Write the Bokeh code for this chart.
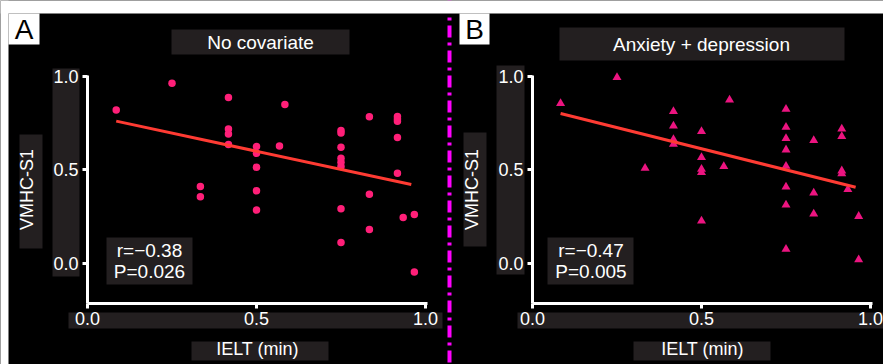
from bokeh.plotting import figure
from bokeh.models import (BoxAnnotation, Label, Span, FixedTicker, LinearAxis,
                          PrintfTickFormatter, Range1d)
from bokeh.embed import file_html
from bokeh.resources import INLINE

# ---------------- data ----------------
a_x = [0.085, 0.250, 0.417, 0.417, 0.417, 0.417, 0.334, 0.334, 0.584,
       0.500, 0.500, 0.500, 0.500, 0.500, 0.568,
       0.750, 0.750, 0.750, 0.750, 0.750, 0.750, 0.750, 0.750,
       0.834, 0.834, 0.834,
       0.917, 0.917, 0.917, 0.917, 0.917, 0.934, 0.967, 0.967]
a_y = [0.819, 0.963, 0.886, 0.718, 0.691, 0.635, 0.411, 0.356, 0.849,
       0.624, 0.588, 0.514, 0.388, 0.285, 0.628,
       0.710, 0.697, 0.620, 0.562, 0.540, 0.518, 0.292, 0.112,
       0.784, 0.370, 0.182,
       0.785, 0.772, 0.760, 0.673, 0.482, 0.245, 0.262, -0.045]

b_x = [0.083, 0.250, 0.333, 0.417, 0.417, 0.417, 0.417,
       0.500, 0.500, 0.500, 0.500, 0.500, 0.583, 0.566,
       0.750, 0.750, 0.750, 0.750, 0.750, 0.750, 0.750, 0.750,
       0.832, 0.832, 0.832,
       0.915, 0.915, 0.915, 0.915, 0.933, 0.965, 0.965]
b_y = [0.855, 0.994, 0.509, 0.812, 0.734, 0.662, 0.637,
       0.705, 0.566, 0.504, 0.486, 0.227, 0.873, 0.518,
       0.824, 0.728, 0.668, 0.607, 0.520, 0.409, 0.313, 0.076,
       0.657, 0.377, 0.265,
       0.718, 0.678, 0.495, 0.480, 0.395, 0.252, 0.020]

a_fit_slope, a_fit_intercept, a_fit_x = -0.387, 0.793, [0.085, 0.958]
b_fit_slope, b_fit_intercept, b_fit_x = -0.451, 0.838, [0.083, 0.956]

x_ticks = [0.0, 0.5, 1.0]
y_ticks = [0.0, 0.5, 1.0]
x_bounds = (0.0, 1.006)
y_bounds = (-0.2136, 1.003)

a_title, b_title = "No covariate", "Anxiety + depression"
a_stats = ["r=\u22120.38", "P=0.026"]
b_stats = ["r=\u22120.47", "P=0.005"]
x_label, y_label = "IELT (min)", "VMHC-S1"

# ---------------- layout / styles ----------------
W, H = 883, 364
PX_X = 338.0          # px per x unit
PX_Y = 187.3          # px per y unit
A_X0, B_X0 = 87, 532  # pixel column of x = 0 in each panel
Y0 = 263.0            # pixel row of y = 0
FONT = "Liberation Sans"
GREY = "#231f20"

p = figure(width=W, height=H, output_backend="svg", toolbar_location=None,
           x_range=Range1d(-A_X0 / PX_X, (W - A_X0) / PX_X),
           y_range=Range1d((Y0 - H) / PX_Y, Y0 / PX_Y),
           x_axis_location=None, y_axis_location=None, min_border=0,
           background_fill_color="black", border_fill_color="black",
           outline_line_color=None)
p.extra_x_ranges = {"b": Range1d(-B_X0 / PX_X, (W - B_X0) / PX_X)}
p.grid.visible = False


def style_axis(ax):
    ax.axis_line_color = "white"
    ax.axis_line_width = 3
    ax.major_tick_line_color = "white"
    ax.major_tick_line_width = 3
    ax.major_tick_out = 5
    ax.major_tick_in = 0
    ax.minor_tick_line_color = None
    ax.major_label_text_color = "white"
    ax.major_label_text_font = FONT
    ax.major_label_text_font_size = "18px"
    ax.axis_label_text_color = "white"
    ax.axis_label_text_font = FONT
    ax.axis_label_text_font_size = "18px"
    ax.axis_label_text_font_style = "normal"
    ax.formatter = PrintfTickFormatter(format="%.1f")


for rng in ("default", "b"):
    xa = LinearAxis(x_range_name=rng, fixed_location=y_bounds[0],
                    bounds=x_bounds, ticker=FixedTicker(ticks=x_ticks),
                    axis_label=x_label, major_label_standoff=3,
                    axis_label_standoff=11)
    style_axis(xa)
    p.add_layout(xa, "below")
    ya = LinearAxis(x_range_name=rng, fixed_location=0.0, bounds=y_bounds,
                    ticker=FixedTicker(ticks=y_ticks), axis_label=y_label,
                    major_label_standoff=4, axis_label_standoff=13)
    style_axis(ya)
    p.add_layout(ya, "left")


def add_box(x0, y0, x1, y1, color, level="underlay"):
    p.add_layout(BoxAnnotation(
        left=x0, right=x1, top=H - y0, bottom=H - y1,
        left_units="screen", right_units="screen",
        top_units="screen", bottom_units="screen",
        fill_color=color, fill_alpha=1.0, line_color=None, level=level))


def add_text(x, y, text, size, color):
    p.add_layout(Label(
        x=x, y=H - y, x_units="screen", y_units="screen", text=text,
        text_align="center", text_baseline="middle", text_font=FONT,
        text_font_size=size, text_color=color))


# decorative boxes
add_box(0, 0, 8, H, "white")
add_box(8, 13, 39, 44, "white")
add_box(459, 13, 489, 44, "white")
add_box(171, 29, 349, 54, GREY)
add_box(559, 27, 844, 60, GREY)
add_box(52, 68, 79, 276, GREY)
add_box(496, 65, 524, 274, GREY)
add_box(68, 312, 442, 328, GREY)
add_box(517, 312, 883, 328, GREY)
add_box(19, 134, 42, 248, GREY)
add_box(463, 132, 486, 246, GREY)
add_box(191, 341, 328, 360, GREY)
add_box(633, 341, 770, 360, GREY)
add_box(106, 237, 192, 284, GREY)
add_box(547, 237, 633, 284, GREY)

# divider
p.add_layout(Span(location=449, location_units="screen", dimension="height",
                  line_color="#ff00ff", line_width=4, line_dash="12 5 3 5"))
add_box(0, 0, W, 13, "white", level="overlay")

# data marks
p.scatter(a_x, a_y, marker="circle", size=7.5, fill_color="#ff1f78",
          line_color=None)
p.line(a_fit_x, [a_fit_intercept + a_fit_slope * x for x in a_fit_x],
       line_color="#ff3b33", line_width=3)
p.scatter(b_x, b_y, marker="triangle", size=9, fill_color="#ec1480",
          line_color=None, x_range_name="b")
p.line(b_fit_x, [b_fit_intercept + b_fit_slope * x for x in b_fit_x],
       line_color="#ff3b33", line_width=3, x_range_name="b")

# texts
add_text(23.5, 29, "A", "28px", "black")
add_text(474, 29, "B", "28px", "black")
add_text(260, 42, a_title, "19px", "white")
add_text(701, 44, b_title, "19px", "white")
add_text(149, 250, a_stats[0], "19px", "white")
add_text(149, 271, a_stats[1], "19px", "white")
add_text(590.5, 250, b_stats[0], "19px", "white")
add_text(590.5, 271, b_stats[1], "19px", "white")

open("out.html", "w").write(file_html(p, INLINE))
